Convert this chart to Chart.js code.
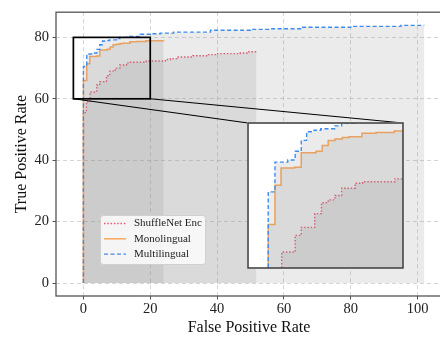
<!DOCTYPE html>
<html>
<head>
<meta charset="utf-8">
<script src="https://cdn.jsdelivr.net/npm/chart.js@4.4.0/dist/chart.umd.min.js"></script>
<style>
  html, body { margin: 0; padding: 0; background: #fff; overflow: hidden; width: 440px; height: 338px; }
  #wrap { position: relative; width: 440px; height: 338px; overflow: hidden; }
  #main { position: absolute; left: 0; top: 0; }
  #inset { position: absolute; left: 247px; top: 122px; background: #fff; }
</style>
</head>
<body>
<div id="wrap">
  <canvas id="main" width="442" height="338"></canvas>
  <canvas id="inset" width="157" height="147"></canvas>
</div>
<script>
// series names (legend order)
const seriesNames = ['ShuffleNet Enc', 'Monolingual', 'Multilingual'];

// ROC vertices (FPR %, TPR %)
const shuffleFpr = [0, 0, 0.9, 2.0, 4.0, 4.9, 6.9, 7.9, 8.9, 9.9, 10.9, 12.9, 14.0, 18.8, 24.5, 26.0, 28.0, 32.8, 36.9, 39.9, 46.9, 49.0, 51.8];
const shuffleTpr = [0, 55.5, 59.0, 62.2, 64.5, 65.6, 67.5, 69.0, 69.4, 70.0, 71.0, 71.7, 71.9, 72.3, 72.8, 73.1, 73.6, 74.0, 74.4, 74.7, 74.9, 75.3, 75.3];

const monoFpr = [0, 0, 1.0, 1.9, 3.9, 4.9, 7.1, 8.0, 8.9, 9.9, 11.0, 12.0, 13.9, 16.0, 18.7, 24.0];
const monoTpr = [0, 66.0, 71.4, 73.8, 73.9, 75.9, 76.1, 76.9, 77.6, 77.8, 78.0, 78.1, 78.6, 78.7, 78.9, 79.0];

const multiFpr = [0, 0, 1.0, 2.9, 4.0, 4.9, 5.7, 6.8, 7.8, 9.9, 10.9, 13.0, 17.0, 20.0, 23.0, 27.0, 38.0, 50.0, 56.0, 65.0, 80.0, 95.0, 102.0];
const multiTpr = [0, 70.5, 74.6, 74.9, 76.1, 77.6, 78.8, 79.0, 79.2, 79.6, 80.0, 80.3, 81.0, 81.2, 81.4, 81.7, 82.3, 82.6, 82.8, 83.3, 83.6, 83.9, 83.9];

const xTicks = [0, 20, 40, 60, 80, 100];
const yTicks = [0, 20, 40, 60, 80];

// zoomed region shown in the inset
const zoomX = [-3, 20];
const zoomY = [60, 80];

const serif = '"Liberation Serif", "Times New Roman", serif';

function pts(xs, ys) {
    return xs.map((x, i) => ({ x: x, y: ys[i] }));
}

function makeDatasets() {
    const shade = 'rgba(128,128,128,0.16)';
    return [{
        label: seriesNames[0],
        data: pts(shuffleFpr, shuffleTpr),
        borderColor: 'rgb(238,86,112)',
        borderDash: [1.5, 1.8],
        borderWidth: 1.4,
        backgroundColor: shade,
        fill: 'origin',
        stepped: true,
        pointRadius: 0,
        order: 2
    }, {
        label: seriesNames[1],
        data: pts(monoFpr, monoTpr),
        borderColor: 'rgb(250,168,90)',
        borderWidth: 1.5,
        backgroundColor: shade,
        fill: 'origin',
        stepped: true,
        pointRadius: 0,
        order: 1
    }, {
        label: seriesNames[2],
        data: pts(multiFpr, multiTpr),
        borderColor: 'rgb(60,140,240)',
        borderDash: [4, 2.5],
        borderWidth: 1.4,
        backgroundColor: shade,
        fill: 'origin',
        stepped: true,
        pointRadius: 0,
        order: 0
    }];
}

// inset placement on the page (pixels)
const insetBox = { left: 248, top: 123, right: 403, bottom: 268 };

const framePlugin = {
    id: 'frame',
    afterDraw(chart, args, opts) {
        const a = chart.chartArea;
        const ctx = chart.ctx;
        ctx.save();
        ctx.strokeStyle = opts.color;
        ctx.lineWidth = opts.width;
        ctx.strokeRect(a.left, a.top, a.right - a.left, a.bottom - a.top);
        ctx.restore();
    }
};

const zoomPlugin = {
    id: 'zoomMark',
    afterDraw(chart) {
        const ctx = chart.ctx;
        const xs = chart.scales.x, ys = chart.scales.y;
        const x0 = xs.getPixelForValue(zoomX[0]), x1 = xs.getPixelForValue(zoomX[1]);
        const y0 = ys.getPixelForValue(zoomY[0]), y1 = ys.getPixelForValue(zoomY[1]);
        ctx.save();
        ctx.strokeStyle = '#000';
        ctx.lineWidth = 1.1;
        ctx.beginPath();
        ctx.moveTo(x0, y0); ctx.lineTo(insetBox.left, insetBox.top);
        ctx.moveTo(x1, y0); ctx.lineTo(insetBox.right, insetBox.top);
        ctx.stroke();
        ctx.lineWidth = 1.7;
        ctx.strokeRect(x0, y1, x1 - x0, y0 - y1);
        ctx.restore();
    }
};

const legendPlugin = {
    id: 'boxLegend',
    afterDraw(chart) {
        const ctx = chart.ctx;
        ctx.save();
        ctx.beginPath();
        ctx.roundRect(100.5, 215.5, 105, 49, 3);
        ctx.fillStyle = 'rgba(255,255,255,0.8)';
        ctx.fill();
        ctx.strokeStyle = '#d0d0d0';
        ctx.lineWidth = 1;
        ctx.stroke();
        ctx.font = '11px ' + serif;
        ctx.textBaseline = 'middle';
        chart.data.datasets.forEach((ds, i) => {
            const y = 223.5 + i * 15.3;
            ctx.beginPath();
            ctx.setLineDash(ds.borderDash || []);
            ctx.strokeStyle = ds.borderColor;
            ctx.lineWidth = ds.borderWidth;
            ctx.moveTo(104, y);
            ctx.lineTo(126, y);
            ctx.stroke();
            ctx.setLineDash([]);
            ctx.fillStyle = '#222';
            ctx.fillText(ds.label, 134, y);
        });
        ctx.restore();
    }
};

const gridOpts = {
    color: 'rgba(170,170,170,0.55)',
    lineWidth: 0.9,
    tickLength: 3.5,
    tickColor: '#555',
    tickWidth: 1
};

const mainChart = new Chart(document.getElementById('main'), {
    type: 'line',
    data: { datasets: makeDatasets() },
    options: {
        responsive: false,
        animation: false,
        events: [],
        layout: { padding: { left: 0, right: 0, top: 9, bottom: 0 } },
        plugins: { legend: { display: false }, tooltip: { enabled: false }, frame: { color: '#555', width: 1.3 } },
        scales: {
            x: {
                type: 'linear',
                min: -8.2,
                max: 107.3,
                afterBuildTicks: s => { s.ticks = xTicks.map(v => ({ value: v })); },
                afterFit: s => { s.height = 42; },
                grid: gridOpts,
                border: { display: false, dash: [4, 3] },
                ticks: { color: '#222', font: { family: serif, size: 14.5 }, padding: 1, maxRotation: 0 },
                title: { display: true, text: 'False Positive Rate', color: '#111', font: { family: serif, size: 16 }, padding: { top: 0, bottom: 1 } }
            },
            y: {
                type: 'linear',
                min: -4.2,
                max: 88.2,
                afterBuildTicks: s => { s.ticks = yTicks.map(v => ({ value: v })); },
                afterFit: s => { s.width = 56; },
                grid: gridOpts,
                border: { display: false, dash: [4, 3] },
                ticks: { color: '#222', font: { family: serif, size: 14.5 }, padding: 3.5 },
                title: { display: true, text: 'True Positive Rate', color: '#111', font: { family: serif, size: 16 }, padding: { top: 12, bottom: 0 } }
            }
        }
    },
    plugins: [framePlugin, zoomPlugin, legendPlugin]
});

const insetChart = new Chart(document.getElementById('inset'), {
    type: 'line',
    data: { datasets: makeDatasets() },
    options: {
        responsive: false,
        animation: false,
        events: [],
        layout: { padding: 1 },
        plugins: { legend: { display: false }, tooltip: { enabled: false }, frame: { color: '#444', width: 1.6 } },
        scales: {
            x: { type: 'linear', min: zoomX[0], max: zoomX[1], display: false },
            y: { type: 'linear', min: zoomY[0], max: zoomY[1], display: false }
        }
    },
    plugins: [framePlugin]
});
</script>
</body>
</html>
